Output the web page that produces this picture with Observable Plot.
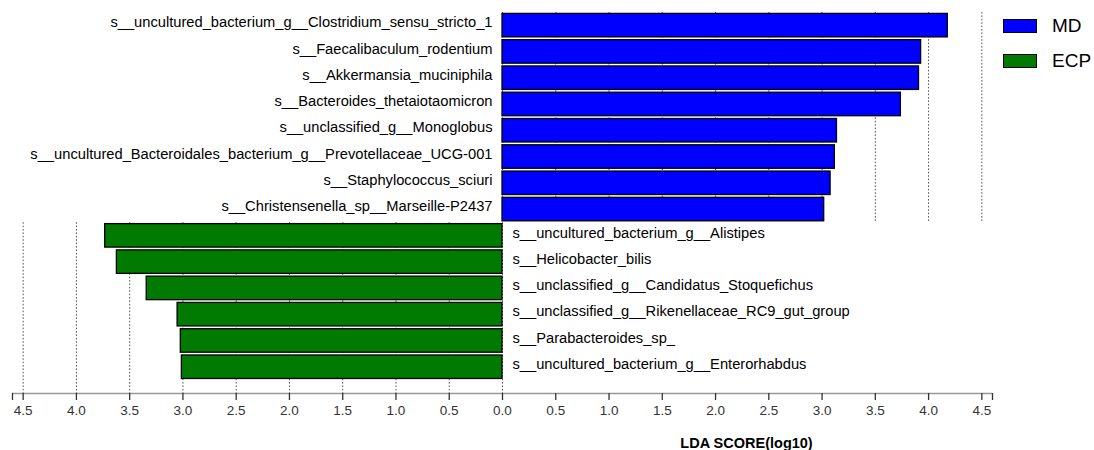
<!DOCTYPE html>
<html><head><meta charset="utf-8">
<script src="https://cdn.jsdelivr.net/npm/d3@7"></script>
<script src="https://cdn.jsdelivr.net/npm/@observablehq/plot@0.6"></script>
<style>
body{margin:0;background:#fff;}
#wrap{position:relative;width:1094px;height:450px;font-family:"Liberation Sans",Arial,sans-serif;}
.leg{position:absolute;left:1003px;height:15px;display:flex;align-items:center;font-size:19px;color:#000;line-height:15px;}
.sw{width:32px;height:12px;border:1.5px solid #000;margin-right:15px;box-sizing:content-box;}
</style></head><body>
<div id="wrap"></div>
<script>
const taxaMD = [
  "s__uncultured_bacterium_g__Clostridium_sensu_stricto_1",
  "s__Faecalibaculum_rodentium",
  "s__Akkermansia_muciniphila",
  "s__Bacteroides_thetaiotaomicron",
  "s__unclassified_g__Monoglobus",
  "s__uncultured_Bacteroidales_bacterium_g__Prevotellaceae_UCG-001",
  "s__Staphylococcus_sciuri",
  "s__Christensenella_sp__Marseille-P2437"
];
const ldaMD = [4.18, 3.93, 3.91, 3.74, 3.14, 3.12, 3.08, 3.02];
const taxaECP = [
  "s__uncultured_bacterium_g__Alistipes",
  "s__Helicobacter_bilis",
  "s__unclassified_g__Candidatus_Stoquefichus",
  "s__unclassified_g__Rikenellaceae_RC9_gut_group",
  "s__Parabacteroides_sp_",
  "s__uncultured_bacterium_g__Enterorhabdus"
];
const ldaECP = [3.73, 3.62, 3.34, 3.05, 3.02, 3.01];
const groups = ["MD", "ECP"];
const groupColors = ["#0000FF", "#007A00"];
const tickValues = [-4.5, -4.0, -3.5, -3.0, -2.5, -2.0, -1.5, -1.0, -0.5, 0, 0.5, 1.0, 1.5, 2.0, 2.5, 3.0, 3.5, 4.0, 4.5];
const xDomain = [-4.6, 4.6];
const xLabel = "LDA SCORE(log10)";

const rows = [
  ...taxaMD.map((t, k) => ({taxon: t, lda: ldaMD[k], signed: ldaMD[k], group: groups[0]})),
  ...taxaECP.map((t, k) => ({taxon: t, lda: ldaECP[k], signed: -ldaECP[k], group: groups[1]}))
].map((d, i) => ({...d, i}));

const nMD = taxaMD.length;
const nRows = rows.length;
const yMax = nRows;            // extra half-row below the last bar before the axis
const half = 0.447;

const plot = Plot.plot({
  width: 1094,
  height: 450,
  marginLeft: 12,
  marginRight: 102,
  marginTop: 12,
  marginBottom: 57,
  style: {fontFamily: "'Liberation Sans', Arial, sans-serif", background: "#fff"},
  x: {domain: xDomain, axis: null, label: null},
  y: {domain: [-0.5, yMax], reverse: true, axis: null, label: null},
  color: {domain: groups, range: groupColors},
  marks: [
    Plot.ruleX(tickValues.filter(t => t >= 0), {y1: -0.5, y2: nMD - 0.5, stroke: "#555", strokeWidth: 1, strokeDasharray: "1.6,1.8"}),
    Plot.ruleX(tickValues.filter(t => t <= 0), {y1: nMD - 0.5, y2: yMax, stroke: "#555", strokeWidth: 1, strokeDasharray: "1.6,1.8"}),
    Plot.rectX(rows, {x1: 0, x2: "signed", y1: d => d.i - half, y2: d => d.i + half, fill: "group", stroke: "#000", strokeWidth: 1.3}),
    Plot.text(rows.filter(d => d.signed > 0), {x: 0, y: "i", text: "taxon", textAnchor: "end", dx: -10, dy: -3, fontSize: 14.7, fill: "#000"}),
    Plot.text(rows.filter(d => d.signed < 0), {x: 0, y: "i", text: "taxon", textAnchor: "start", dx: 10, dy: -3, fontSize: 14.7, fill: "#000"}),
    Plot.ruleY([yMax], {x1: xDomain[0], x2: xDomain[1], stroke: "#999", strokeWidth: 1.3}),
    Plot.axisX(xDomain, {tickSize: 7, tickFormat: () => "", stroke: "#333", strokeWidth: 1.3, label: null}),
    Plot.axisX(tickValues, {tickSize: 7, tickPadding: 5, tickFormat: d => Math.abs(d).toFixed(1), fontSize: 13.5, fill: "#333", stroke: "#333", strokeWidth: 1.3, label: null}),
    Plot.text([xLabel], {frameAnchor: "bottom", dx: 244, dy: 54, lineAnchor: "bottom", fontWeight: "bold", fontSize: 14.5, fill: "#000"})
  ]
});

const wrap = document.getElementById("wrap");
wrap.appendChild(plot);
groups.forEach((g, k) => {
  const item = document.createElement("div");
  item.className = "leg";
  item.style.top = (18 + k * 35) + "px";
  const sw = document.createElement("div");
  sw.className = "sw";
  sw.style.background = groupColors[k];
  const lab = document.createElement("span");
  lab.textContent = g;
  item.appendChild(sw);
  item.appendChild(lab);
  wrap.appendChild(item);
});
</script>
</body></html>
